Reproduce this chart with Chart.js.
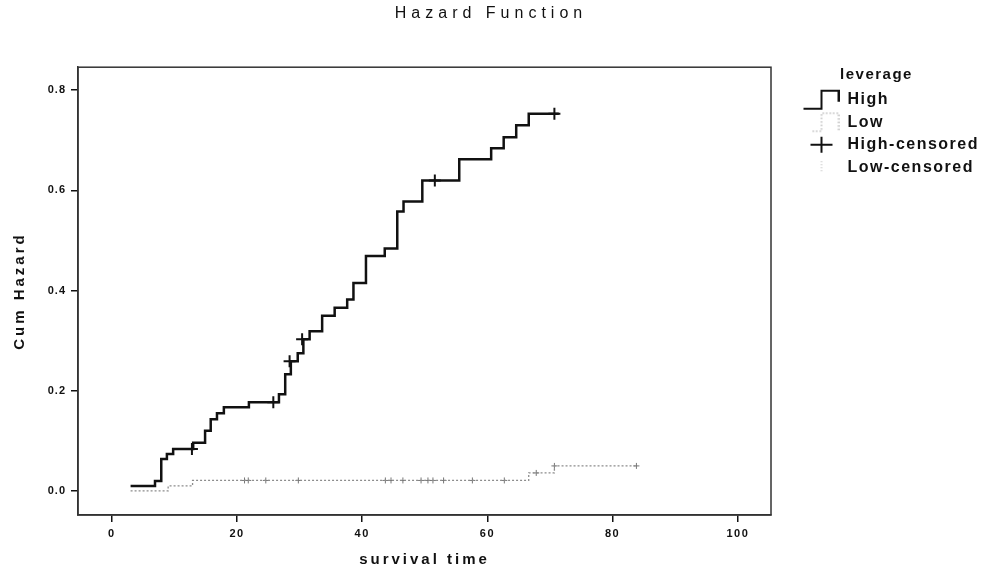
<!DOCTYPE html>
<html>
<head>
<meta charset="utf-8">
<script src="https://cdn.jsdelivr.net/npm/chart.js@4.4.0/dist/chart.umd.min.js"></script>
<style>
  html, body { margin: 0; padding: 0; background: #fff; }
  #wrap { width: 982px; height: 571px; }
</style>
</head>
<body>
<div id="wrap"><canvas id="hazard-chart" width="982" height="571"></canvas></div>
<script>
// cumulative hazard steps (time, value after the step)
const highTimes = [3.0, 6.9, 7.9, 8.8, 9.8, 13.0, 14.9, 15.8, 16.8, 17.9, 21.9, 26.7, 27.7, 28.6, 29.7, 30.6, 31.6, 33.6, 35.6, 37.6, 38.6, 40.6, 43.6, 45.6, 46.6, 49.6, 55.5, 60.6, 62.6, 64.6, 66.6, 71.4];
const highValues = [0.010, 0.020, 0.064, 0.074, 0.084, 0.096, 0.120, 0.143, 0.155, 0.167, 0.177, 0.193, 0.233, 0.259, 0.275, 0.303, 0.319, 0.350, 0.366, 0.382, 0.415, 0.469, 0.484, 0.558, 0.578, 0.620, 0.662, 0.684, 0.706, 0.730, 0.753, 0.753];
const lowTimes = [3.0, 9.0, 12.9, 66.6, 70.7, 84.0];
const lowValues = [0.000, 0.010, 0.021, 0.036, 0.050, 0.050];

// censored observations
const highCensorTimes = [12.8, 25.8, 28.4, 30.4, 51.6, 70.7];
const highCensorValues = [0.084, 0.177, 0.259, 0.303, 0.620, 0.753];
const lowCensorTimes = [21.2, 21.8, 24.6, 29.8, 43.7, 44.6, 46.5, 49.4, 50.5, 51.3, 53.0, 57.6, 62.7, 67.8, 70.7, 83.8];
const lowCensorValues = [0.021, 0.021, 0.021, 0.021, 0.021, 0.021, 0.021, 0.021, 0.021, 0.021, 0.021, 0.021, 0.021, 0.036, 0.050, 0.050];

const xTicks = [0, 20, 40, 60, 80, 100];
const yTicks = [0, 0.2, 0.4, 0.6, 0.8];
const seriesNames = ['High', 'Low', 'High-censored', 'Low-censored'];

const toPoints = (xs, ys) => xs.map((x, i) => ({ x: x, y: ys[i] }));

/* small legend pictures: step line, dotted step, big cross, small dotted cross */
function makeIcon(kind) {
    const c = document.createElement('canvas');
    c.width = 62; c.height = 24;
    const g = c.getContext('2d');
    if (kind === 'high') {
        g.strokeStyle = '#111'; g.lineWidth = 2;
        g.beginPath();
        g.moveTo(26, 21); g.lineTo(44, 21); g.lineTo(44, 3); g.lineTo(61, 3); g.lineTo(61, 14);
        g.stroke();
    } else if (kind === 'low') {
        g.strokeStyle = '#999'; g.lineWidth = 1;
        g.setLineDash([1.5, 2]);
        g.beginPath();
        g.moveTo(35, 21); g.lineTo(44, 21); g.lineTo(44, 3); g.lineTo(61, 3); g.lineTo(61, 20);
        g.stroke();
    } else if (kind === 'cross') {
        g.strokeStyle = '#111'; g.lineWidth = 2;
        g.beginPath();
        g.moveTo(33, 12); g.lineTo(55, 12); g.moveTo(44, 4); g.lineTo(44, 20);
        g.stroke();
    } else {
        g.strokeStyle = '#aaa'; g.lineWidth = 1;
        g.setLineDash([1, 2]);
        g.beginPath();
        g.moveTo(44, 6); g.lineTo(44, 18);
        g.stroke();
    }
    return c;
}
const legendIcons = [makeIcon('high'), makeIcon('low'), makeIcon('cross'), makeIcon('lowcross')];

const fontFamily = "'Liberation Sans', Arial, sans-serif";

// spaced lettering like the scanned original, different amount per element
function spaced(obj, method, value) {
    const orig = obj[method];
    if (orig._spaced) return;
    const wrapped = function (...args) {
        const c = this.ctx;
        const prev = c.letterSpacing;
        c.letterSpacing = value;
        const r = orig.apply(this, args);
        c.letterSpacing = prev;
        return r;
    };
    wrapped._spaced = true;
    obj[method] = wrapped;
}

const letterSpacingPlugin = {
    id: 'letterSpacing',
    beforeLayout(chart) { chart.ctx.letterSpacing = '1.5px'; },
    afterLayout(chart) {
        spaced(chart.titleBlock, 'draw', '5px');
        spaced(chart.scales.x, 'drawTitle', '3px');
        spaced(chart.scales.y, 'drawTitle', '3px');
        spaced(chart.scales.x, 'drawLabels', '1.5px');
        spaced(chart.scales.y, 'drawLabels', '1px');
    },
    beforeDraw(chart) { chart.ctx.letterSpacing = '1.5px'; }
};

// box round the plot area
const framePlugin = {
    id: 'frame',
    afterDatasetsDraw(chart) {
        const { ctx, chartArea } = chart;
        ctx.save();
        ctx.strokeStyle = '#333';
        ctx.lineWidth = 1.5;
        ctx.strokeRect(chartArea.left, chartArea.top, chartArea.right - chartArea.left, chartArea.bottom - chartArea.top);
        ctx.restore();
    }
};

const ctx = document.getElementById('hazard-chart');
new Chart(ctx, {
    type: 'line',
    data: {
        datasets: [
            {
                label: seriesNames[0],
                data: toPoints(highTimes, highValues),
                borderColor: '#111',
                borderWidth: 2.5,
                stepped: 'before',
                pointRadius: 0,
                fill: false
            },
            {
                label: seriesNames[1],
                data: toPoints(lowTimes, lowValues),
                borderColor: '#8c8c8c',
                borderWidth: 1.3,
                borderDash: [2, 2],
                stepped: 'before',
                pointRadius: 0,
                fill: false
            },
            {
                label: seriesNames[2],
                data: toPoints(highCensorTimes, highCensorValues),
                showLine: false,
                pointStyle: 'cross',
                pointRadius: 6,
                pointBorderWidth: 2,
                pointBorderColor: '#111',
                borderColor: '#111'
            },
            {
                label: seriesNames[3],
                data: toPoints(lowCensorTimes, lowCensorValues),
                showLine: false,
                pointStyle: 'cross',
                pointRadius: 3,
                pointBorderWidth: 1,
                pointBorderColor: '#777',
                borderColor: '#777'
            }
        ]
    },
    options: {
        responsive: false,
        animation: false,
        layout: { padding: 0 },
        plugins: {
            title: {
                display: true,
                text: 'Hazard Function',
                color: '#111',
                font: { family: fontFamily, size: 16, weight: 'normal' },
                padding: { top: 4, bottom: 44 }
            },
            legend: {
                position: 'right',
                align: 'start',
                fullSize: false,
                maxWidth: 211,
                title: {
                    display: true,
                    text: 'leverage',
                    color: '#111',
                    font: { family: fontFamily, size: 15, weight: 'bold' },
                    padding: 0
                },
                labels: {
                    usePointStyle: true,
                    pointStyleWidth: 62,
                    padding: 6.5,
                    color: '#111',
                    font: { family: fontFamily, size: 16, weight: 'bold' },
                    generateLabels(chart) {
                        const items = Chart.defaults.plugins.legend.labels.generateLabels(chart);
                        return items.map((item, i) => Object.assign(item, { pointStyle: legendIcons[i] }));
                    }
                }
            },
            tooltip: { enabled: false }
        },
        scales: {
            x: {
                type: 'linear',
                min: -5.4,
                max: 105.3,
                afterBuildTicks(scale) { scale.ticks = xTicks.map(v => ({ value: v })); },
                afterFit(scale) { scale.height = 56; },
                ticks: {
                    color: '#111',
                    padding: 5,
                    maxRotation: 0,
                    font: { family: fontFamily, size: 11, weight: 'bold' },
                    callback: v => String(v)
                },
                grid: { drawOnChartArea: false, drawTicks: true, tickLength: 7, color: '#111', lineWidth: 1.5 },
                border: { display: true, color: '#333', width: 1.5 },
                title: {
                    display: true,
                    text: 'survival time',
                    color: '#111',
                    font: { family: fontFamily, size: 15, weight: 'bold' },
                    padding: 2
                }
            },
            y: {
                type: 'linear',
                min: -0.048,
                max: 0.846,
                afterBuildTicks(scale) { scale.ticks = yTicks.map(v => ({ value: v })); },
                afterFit(scale) { scale.width = 78; },
                ticks: {
                    color: '#111',
                    padding: 5,
                    font: { family: fontFamily, size: 11, weight: 'bold' },
                    callback: v => v.toFixed(1)
                },
                grid: { drawOnChartArea: false, drawTicks: true, tickLength: 7, color: '#111', lineWidth: 1.5 },
                border: { display: true, color: '#333', width: 1.5 },
                title: {
                    display: true,
                    text: 'Cum Hazard',
                    color: '#111',
                    font: { family: fontFamily, size: 15, weight: 'bold' },
                    padding: 11
                }
            }
        }
    },
    plugins: [letterSpacingPlugin, framePlugin]
});
</script>
</body>
</html>
